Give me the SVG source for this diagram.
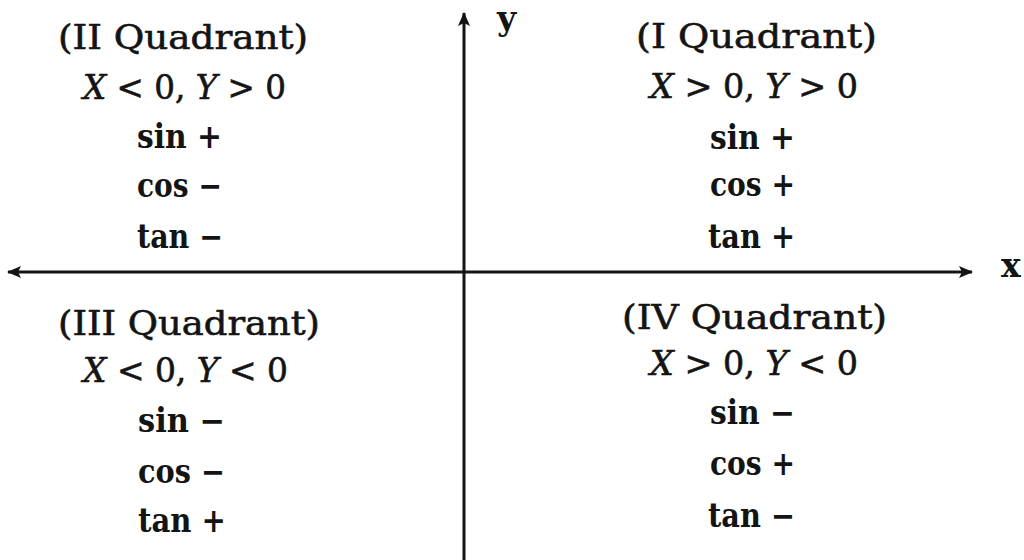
<svg xmlns="http://www.w3.org/2000/svg" width="1024" height="560" viewBox="0 0 1024 560">
<style>
text{font-family:"DejaVu Serif","Liberation Serif",serif;fill:#141414;font-size:33px;stroke:#141414;stroke-width:0.6}
.b{font-weight:bold;stroke-width:0}
.i{font-style:italic}
.ax{stroke:#141414;stroke-width:3;fill:none}
</style>
<defs>
<marker id="ah" viewBox="0 0 14 12" refX="13" refY="6" markerWidth="14" markerHeight="12" markerUnits="userSpaceOnUse" orient="auto">
<path d="M0,0 L14,6 L0,12 L3,6 Z" fill="#141414"/>
</marker>
</defs>
<rect width="1024" height="560" fill="#fff"/>
<g id="connectors">
<line class="ax" x1="464" y1="560" x2="464" y2="13" marker-end="url(#ah)"/>
<line class="ax" x1="490" y1="272" x2="972" y2="272" marker-end="url(#ah)"/>
<line class="ax" x1="490" y1="272" x2="8" y2="272" marker-end="url(#ah)"/>
</g>
<g id="axis-y"><text class="b" x="497" y="30" font-size="30">y</text></g>
<g id="axis-x"><text class="b" x="1001" y="277" font-size="30">x</text></g>
<g id="quadrant-2">
<text x="58" y="49" textLength="250" lengthAdjust="spacingAndGlyphs">(II Quadrant)</text>
<text x="83" y="99" textLength="203" lengthAdjust="spacingAndGlyphs"><tspan class="i">X</tspan> &lt; 0, <tspan class="i">Y</tspan> &gt; 0</text>
<text class="b" x="137" y="148" textLength="85" lengthAdjust="spacingAndGlyphs">sin +</text>
<text class="b" x="137" y="197" textLength="85" lengthAdjust="spacingAndGlyphs">cos −</text>
<text class="b" x="137" y="248" textLength="86" lengthAdjust="spacingAndGlyphs">tan −</text>
</g>
<g id="quadrant-1">
<text x="636" y="48" textLength="241" lengthAdjust="spacingAndGlyphs">(I Quadrant)</text>
<text x="650" y="98" textLength="208" lengthAdjust="spacingAndGlyphs"><tspan class="i">X</tspan> &gt; 0, <tspan class="i">Y</tspan> &gt; 0</text>
<text class="b" x="710" y="149" textLength="85" lengthAdjust="spacingAndGlyphs">sin +</text>
<text class="b" x="710" y="196" textLength="85" lengthAdjust="spacingAndGlyphs">cos +</text>
<text class="b" x="708" y="248" textLength="87" lengthAdjust="spacingAndGlyphs">tan +</text>
</g>
<g id="quadrant-3">
<text x="58" y="335" textLength="262" lengthAdjust="spacingAndGlyphs">(III Quadrant)</text>
<text x="83" y="382" textLength="205" lengthAdjust="spacingAndGlyphs"><tspan class="i">X</tspan> &lt; 0, <tspan class="i">Y</tspan> &lt; 0</text>
<text class="b" x="138" y="432" textLength="87" lengthAdjust="spacingAndGlyphs">sin −</text>
<text class="b" x="138" y="483" textLength="87" lengthAdjust="spacingAndGlyphs">cos −</text>
<text class="b" x="138" y="532" textLength="88" lengthAdjust="spacingAndGlyphs">tan +</text>
</g>
<g id="quadrant-4">
<text x="622" y="329" textLength="265" lengthAdjust="spacingAndGlyphs">(IV Quadrant)</text>
<text x="650" y="375" textLength="208" lengthAdjust="spacingAndGlyphs"><tspan class="i">X</tspan> &gt; 0, <tspan class="i">Y</tspan> &lt; 0</text>
<text class="b" x="710" y="424" textLength="85" lengthAdjust="spacingAndGlyphs">sin −</text>
<text class="b" x="710" y="475" textLength="85" lengthAdjust="spacingAndGlyphs">cos +</text>
<text class="b" x="708" y="527" textLength="87" lengthAdjust="spacingAndGlyphs">tan −</text>
</g>
</svg>
